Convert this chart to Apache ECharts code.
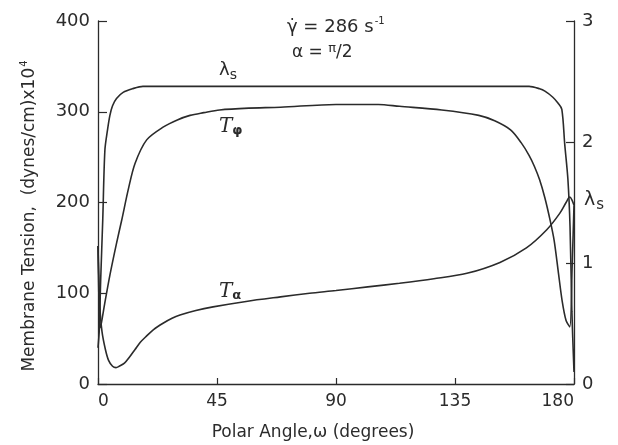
<!DOCTYPE html>
<html>
<head>
<meta charset="utf-8">
<script src="https://cdn.jsdelivr.net/npm/echarts@6/dist/echarts.min.js"></script>
<style>
  html, body { margin: 0; padding: 0; background: #ffffff; }
  #chart { width: 618px; height: 445px; }
</style>
</head>
<body>
<div id="chart"></div>
<script>
// Polar angle axis ticks (degrees)
const angleTicks = [0, 45, 90, 135, 180];
// Left axis: membrane tension, (dynes/cm) x 10^4
const tensionTicks = [0, 100, 200, 300, 400];
// Right axis: surface stretch ratio
const stretchTicks = [0, 1, 2, 3];

// Tension T_alpha along the membrane
const tAlphaAngle = [0, 0.3, 0.7, 1.5, 2.8, 4, 5.5, 6.8, 8, 10, 12, 14, 16, 18.4, 21, 24.6, 28, 31, 37, 43.5, 56, 69, 80, 90, 102, 114, 127, 139.5, 152, 162, 169.7, 174.6, 177, 178.4, 179.2, 180];
const tAlphaValue = [152, 120, 85, 58, 38, 26, 19.5, 18, 19.5, 23, 30, 38, 46, 53, 60, 67, 72.5, 76, 81, 85, 91, 96, 100, 103, 107, 111, 116, 122, 134, 150, 170, 188, 200, 206, 203, 197];

// Tension T_phi along the membrane
const tPhiAngle = [0, 0.3, 0.7, 1.2, 2.5, 4.5, 7, 9, 11.5, 14, 18.4, 24.6, 30, 34.8, 40, 46, 57, 69, 90, 106, 114, 130, 144, 150, 156, 160, 163, 165, 167, 169, 171, 172.5, 174, 175.5, 177, 178.4, 179.3, 180];
const tPhiValue = [152, 100, 62, 66, 88, 120, 155, 181, 215, 243, 269, 283, 291, 296, 299, 302, 304, 305, 308, 308, 306, 302, 296, 290, 280, 266, 252, 240, 225, 205, 180, 158, 125, 92, 70, 63, 130, 197];

// Stretch ratio lambda_s (right axis)
const lambdaAngle = [0, 0.5, 1, 1.8, 2.6, 3.6, 4.5, 5.5, 7, 9.5, 13, 17, 30, 90, 150, 163, 167, 169, 172, 174, 175.4, 176.5, 177.7, 178.5, 179.2, 180];
const lambdaValue = [0.3, 0.45, 0.85, 1.36, 1.93, 2.1, 2.22, 2.3, 2.36, 2.41, 2.44, 2.46, 2.46, 2.46, 2.46, 2.46, 2.44, 2.42, 2.37, 2.32, 2.27, 1.98, 1.69, 1.3, 0.6, 0.1];

const pairs = (xs, ys) => xs.map((x, i) => [x, ys[i]]);

const ink = '#2b2b2b';
const font = 'DejaVu Sans';

const axisCommon = {
  axisLine: { show: true, lineStyle: { color: ink, width: 1.3 } },
  splitLine: { show: false },
  axisLabel: { color: ink, fontFamily: font, fontSize: 17 }
};

const chart = echarts.init(document.getElementById('chart'), null, { renderer: 'canvas' });

const lineStyle = { color: ink, width: 1.6 };

function curve(name, axisIndex, xs, ys) {
  return {
    name: name, type: 'line', yAxisIndex: axisIndex,
    showSymbol: false, symbol: 'none', smooth: 0.3,
    lineStyle: lineStyle, data: pairs(xs, ys)
  };
}

chart.setOption({
  backgroundColor: '#ffffff',
  animation: false,
  grid: { left: 98, right: 44, top: 21, bottom: 61, containLabel: false },
  xAxis: Object.assign({}, axisCommon, {
    type: 'value',
    min: angleTicks[0],
    max: angleTicks[angleTicks.length - 1],
    interval: angleTicks[1] - angleTicks[0],
    axisTick: { show: true, inside: true, length: 6, lineStyle: { color: ink, width: 1.2 } },
    axisLabel: Object.assign({}, axisCommon.axisLabel, { margin: 9, alignMinLabel: 'left', alignMaxLabel: 'right' })
  }),
  yAxis: [
    Object.assign({}, axisCommon, {
      type: 'value',
      position: 'left',
      min: tensionTicks[0],
      max: tensionTicks[tensionTicks.length - 1],
      interval: tensionTicks[1] - tensionTicks[0],
      axisTick: { show: true, inside: true, length: 9, lineStyle: { color: ink, width: 1.2 } },
      axisLabel: Object.assign({}, axisCommon.axisLabel, { margin: 8, fontSize: 18 })
    }),
    Object.assign({}, axisCommon, {
      type: 'value',
      position: 'right',
      min: stretchTicks[0],
      max: stretchTicks[stretchTicks.length - 1],
      interval: stretchTicks[1] - stretchTicks[0],
      axisTick: { show: true, inside: true, length: 8, lineStyle: { color: ink, width: 1.2 } },
      axisLabel: Object.assign({}, axisCommon.axisLabel, { margin: 8, fontSize: 18 })
    })
  ],
  series: [
    curve('T_alpha', 0, tAlphaAngle, tAlphaValue),
    curve('T_phi', 0, tPhiAngle, tPhiValue),
    curve('lambda_s', 1, lambdaAngle, lambdaValue)
  ],
  graphic: [
    {
      type: 'text', x: 30, y: 216, rotation: Math.PI / 2,
      style: {
        text: '{m|Membrane Tension,  (dynes/cm)x10}{sup|4}',
        align: 'center', verticalAlign: 'middle',
        rich: {
          m: { fontFamily: font, fontSize: 17, fill: ink },
          sup: { fontFamily: font, fontSize: 10, fill: ink, verticalAlign: 'bottom', padding: [0, 0, 11, 1] }
        }
      }
    },
    {
      type: 'text', x: 313, y: 433,
      style: { text: 'Polar Angle,\u03c9 (degrees)', font: '17px "DejaVu Sans"', fill: ink, align: 'center', verticalAlign: 'middle' }
    },
    {
      type: 'text', x: 584, y: 200,
      style: {
        text: '{l|\u03bb}{s|s}', verticalAlign: 'middle',
        rich: {
          l: { fontFamily: font, fontSize: 19, fill: ink },
          s: { fontFamily: font, fontSize: 15, fill: ink, padding: [10, 0, 0, 1] }
        }
      }
    },
    {
      type: 'text', x: 287, y: 27,
      style: {
        text: '{t|\u03b3\u0307 = 286 s}{sup|-1}', verticalAlign: 'middle',
        rich: {
          t: { fontFamily: font, fontSize: 18, fill: ink },
          sup: { fontFamily: font, fontSize: 10, fill: ink, padding: [0, 0, 12, 1] }
        }
      }
    },
    {
      type: 'text', x: 292, y: 53,
      style: {
        text: '{t|\u03b1 = }{p|\u03c0}{t|/2}', verticalAlign: 'middle',
        rich: {
          t: { fontFamily: font, fontSize: 17, fill: ink },
          p: { fontFamily: font, fontSize: 13, fill: ink, padding: [0, 0, 8, 0] }
        }
      }
    },
    {
      type: 'text', x: 219, y: 70,
      style: {
        text: '{l|\u03bb}{s|s}', verticalAlign: 'middle',
        rich: {
          l: { fontFamily: font, fontSize: 18, fill: ink },
          s: { fontFamily: font, fontSize: 14, fill: ink, padding: [10, 0, 0, 0] }
        }
      }
    },
    {
      type: 'text', x: 219, y: 127,
      style: {
        text: '{t|T}{s|\u03c6}', verticalAlign: 'middle',
        rich: {
          t: { fontFamily: 'DejaVu Serif', fontStyle: 'italic', fontSize: 20, fill: ink },
          s: { fontFamily: font, fontWeight: 'bold', fontSize: 13, fill: ink, padding: [8, 0, 0, 0] }
        }
      }
    },
    {
      type: 'text', x: 219, y: 292,
      style: {
        text: '{t|T}{s|\u03b1}', verticalAlign: 'middle',
        rich: {
          t: { fontFamily: 'DejaVu Serif', fontStyle: 'italic', fontSize: 20, fill: ink },
          s: { fontFamily: font, fontWeight: 'bold', fontSize: 13, fill: ink, padding: [8, 0, 0, 0] }
        }
      }
    }
  ]
});
</script>
</body>
</html>
